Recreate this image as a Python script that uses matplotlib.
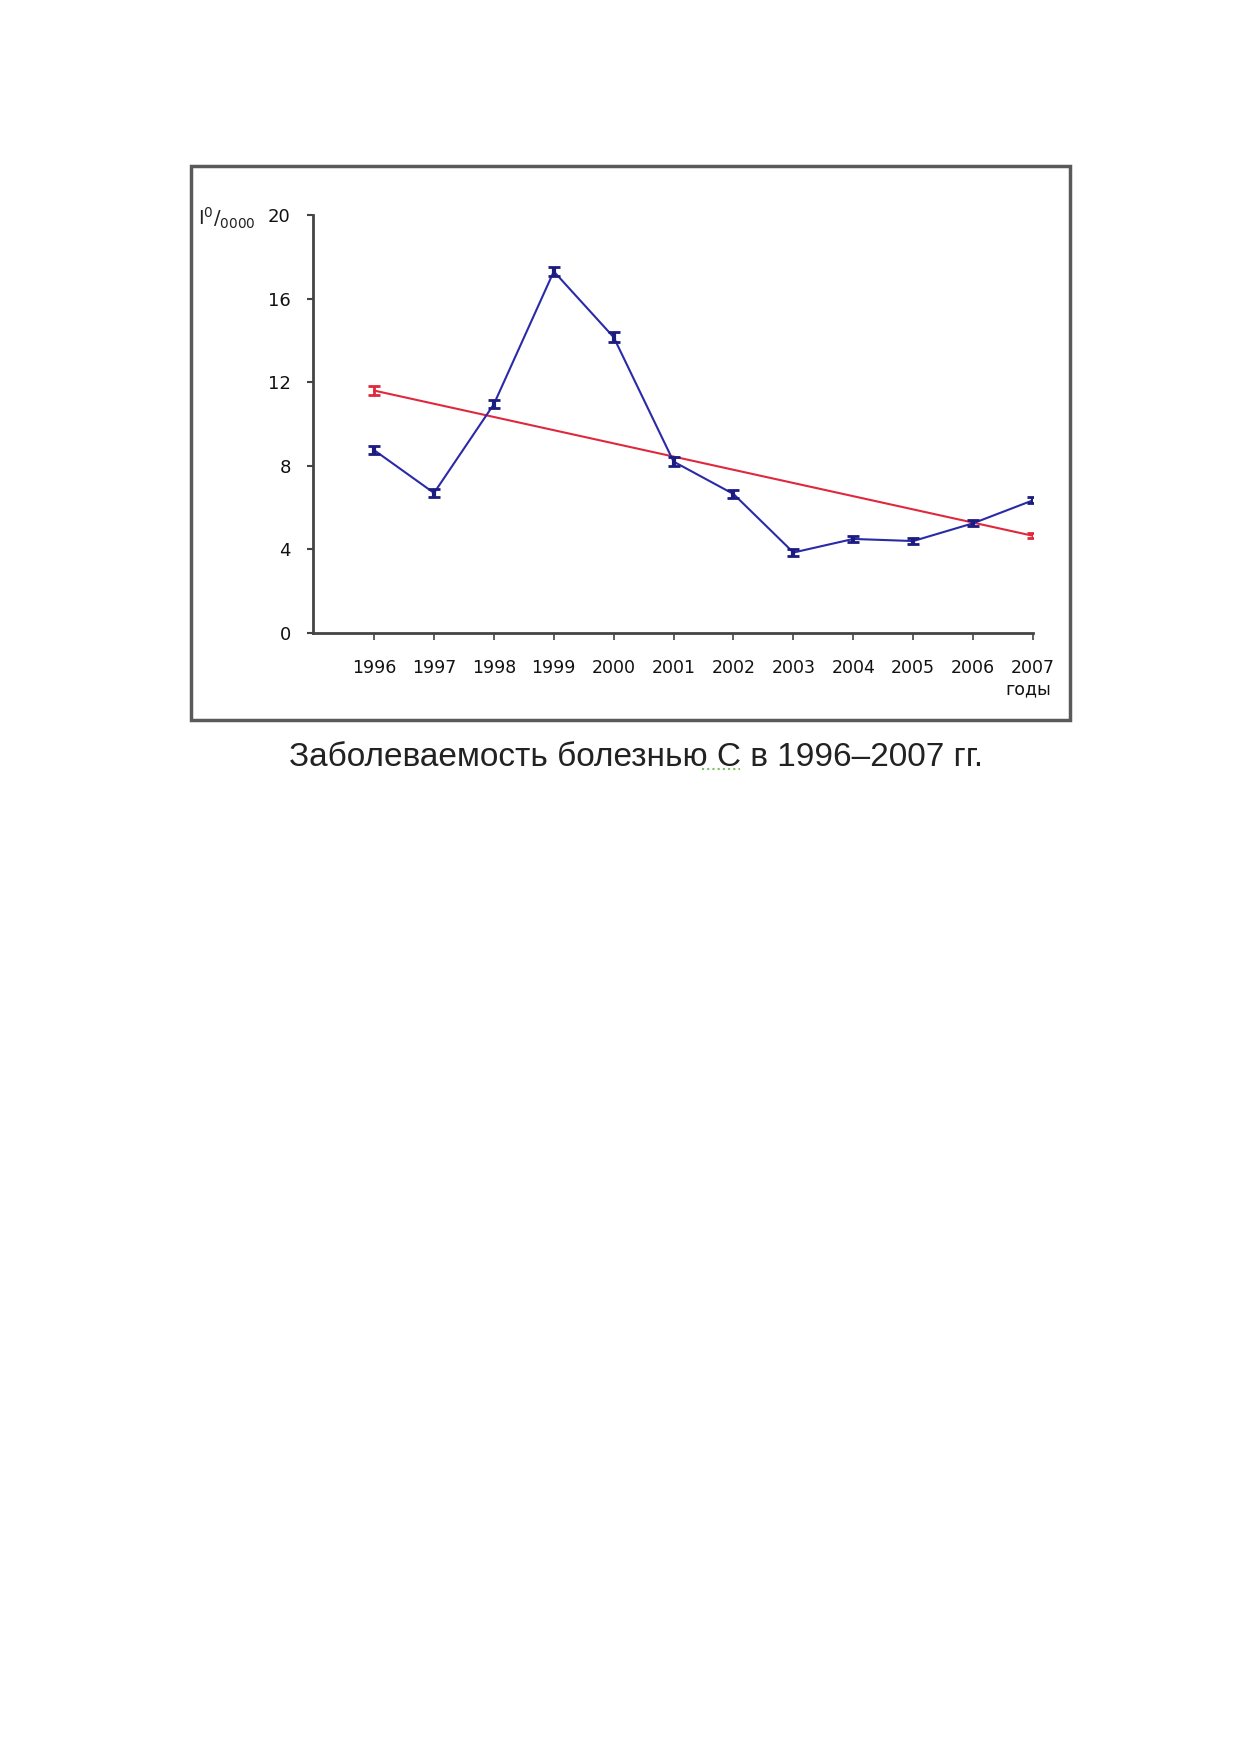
import matplotlib.pyplot as plt
from matplotlib.patches import Rectangle
from matplotlib.lines import Line2D

years = [1996, 1997, 1998, 1999, 2000, 2001, 2002, 2003, 2004, 2005, 2006, 2007]
rate = [8.75, 6.7, 10.95, 17.3, 14.15, 8.2, 6.65, 3.85, 4.5, 4.4, 5.25, 6.35]
rate_err = [0.2, 0.2, 0.2, 0.2, 0.25, 0.2, 0.2, 0.15, 0.15, 0.15, 0.15, 0.15]

trend_years = [1996, 2007]
trend = [11.6, 4.65]
trend_err = [0.2, 0.12]

yticks = [0, 4, 8, 12, 16, 20]

fig = plt.figure(figsize=(12.39, 17.52), dpi=100)
W, H = 1239, 1752
ax = fig.add_axes([313 / W, 1 - 633 / H, (1033 - 313) / W, (633 - 215) / H])

ax.plot(trend_years, trend, color='#e0283c', lw=1.5)
ax.errorbar(trend_years, trend, yerr=trend_err, fmt='none', ecolor='#e0283c',
            elinewidth=2, capsize=4, capthick=2)

ax.plot(years, rate, color='#2a2aa8', lw=1.5)
ax.errorbar(years, rate, yerr=rate_err, fmt='none', ecolor='#1c1c80',
            elinewidth=3, capsize=4, capthick=2)

ax.set_xlim(1994.98, 2007)
ax.set_ylim(0, 20)
ax.set_yticks(yticks)
ax.set_xticks(years)
ax.set_xticklabels([str(y) for y in years])

for s in ['top', 'right']:
    ax.spines[s].set_visible(False)
for s in ['left', 'bottom']:
    ax.spines[s].set_color('#444444')
    ax.spines[s].set_linewidth(2)

ax.tick_params(axis='y', length=4, width=1.5, color='#444444', pad=12,
               labelsize=13, labelcolor='#111111')
ax.tick_params(axis='x', length=5, width=1.2, color='#444444', pad=14,
               labelsize=12.5, labelcolor='#111111')

ax.text(1.025, -0.135, 'годы', transform=ax.transAxes, ha='right', va='center',
        fontsize=12.5, color='#111111')
fig.text(198 / W, 1 - 218 / H, r'I$^{0}$/$_{0000}$', ha='left', va='center',
         fontsize=14, color='#222222')

# frame around the chart
fig.add_artist(Rectangle((191 / W, 1 - 720 / H), (1070 - 191) / W, (720 - 166) / H,
                         transform=fig.transFigure, fill=False,
                         edgecolor='#5a5a5a', lw=2.5))

fig.text(636 / W, 1 - 757 / H, 'Заболеваемость болезнью С в 1996–2007 гг.',
         ha='center', va='center', fontsize=24, family='Liberation Sans',
         color='#222222')
# spell-check underline under "С"
fig.add_artist(Line2D([702 / W, 740 / W], [1 - 769 / H, 1 - 769 / H],
                      transform=fig.transFigure, color='#7fbf5f', lw=1.5,
                      linestyle=(0, (1, 1.5))))

fig.savefig('out.png', dpi=100)
